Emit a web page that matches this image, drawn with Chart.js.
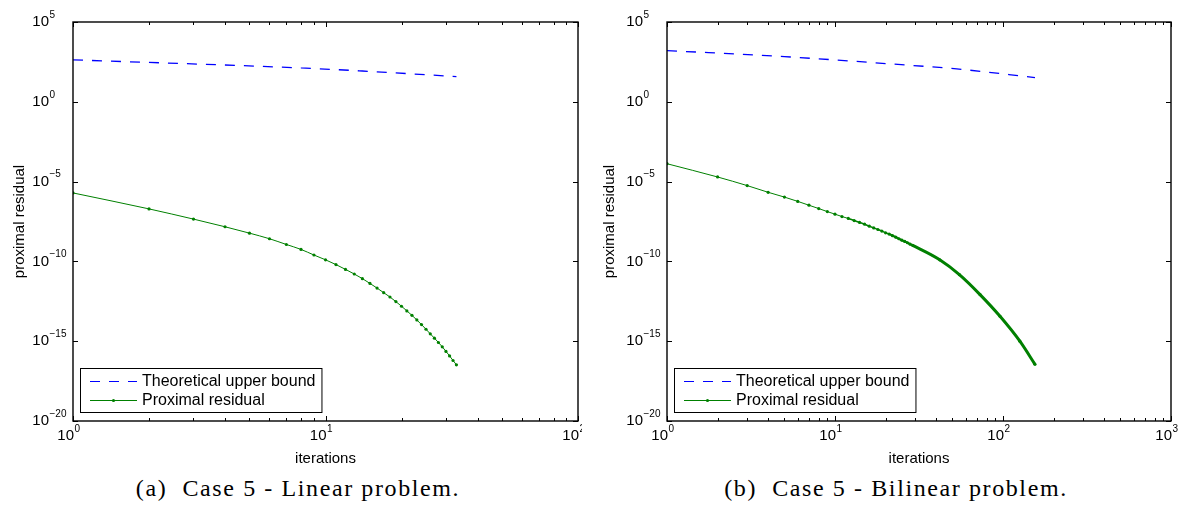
<!DOCTYPE html>
<html>
<head>
<meta charset="utf-8">
<script src="https://cdn.jsdelivr.net/npm/chart.js@4/dist/chart.umd.min.js"></script>
<style>
body { margin: 0; background: #fff; }
#wrap { position: relative; width: 1184px; height: 508px; overflow: hidden; }
#c1 { position: absolute; left: 0; top: 0; }
#c2 { position: absolute; left: 582px; top: 0; }
.cap { position: absolute; top: 475px; font-family: "Liberation Serif", serif; font-size: 24px; letter-spacing: 1.6px; white-space: nowrap; transform: translateX(-50%); }
</style>
</head>
<body>
<div id="wrap">
  <canvas id="c1" width="582" height="470"></canvas>
  <canvas id="c2" width="602" height="470"></canvas>
  <div class="cap" style="left:298px">(a)&nbsp; Case 5 - Linear problem.</div>
  <div class="cap" style="left:896px">(b)&nbsp; Case 5 - Bilinear problem.</div>
</div>
<script>
// values are log10 of the residuals
var linIter = [1,2,3,4,5,6,7,8,9,10,11,12,13,14,15,16,17,18,19,20,21,22,23,24,25,26,27,28,29,30,31,32,33];
var linResidualExp = [-5.71,-6.71,-7.35,-7.83,-8.23,-8.58,-8.94,-9.25,-9.6,-9.9,-10.2,-10.5,-10.79,-11.08,-11.38,-11.67,-11.96,-12.23,-12.52,-12.81,-13.1,-13.38,-13.67,-13.96,-14.25,-14.54,-14.81,-15.08,-15.35,-15.64,-15.92,-16.21,-16.48];
var linBoundIter = [1, 8, 14, 33];
var linBoundExp = [2.63, 2.12, 1.93, 1.58];

var bilIter = [1,2,3,4,5,6,7,8,9,10,11,12,13,14,15,16,17,18,19,20,21,22,23,24,25,26,27,28,29,42,55,73,96,126,155];
var bilResidualExp = [-3.88,-4.71,-5.25,-5.67,-5.97,-6.24,-6.48,-6.69,-6.88,-7.04,-7.19,-7.31,-7.44,-7.56,-7.67,-7.79,-7.9,-8.0,-8.1,-8.21,-8.29,-8.39,-8.48,-8.58,-8.67,-8.75,-8.83,-8.92,-9.0,-9.9,-10.83,-12.08,-13.44,-15.0,-16.45];
var bilBoundIter = [1, 5, 21, 53, 155];
var bilBoundExp = [3.21, 2.83, 2.38, 2.06, 1.52];

var yTickExp = [5, 0, -5, -10, -15, -20];
var xTickExp = [0, 1, 2, 3];
var seriesNames = ['Theoretical upper bound', 'Proximal residual'];

var sans = '"Liberation Sans", Arial, sans-serif';

function points(xs, es) {
    return xs.map(function (x, i) { return { x: x, y: Math.pow(10, es[i]) }; });
}

// "10" with a small raised exponent, the base ending at x
function drawPow(ctx, e, x, y) {
    ctx.textBaseline = 'middle';
    ctx.textAlign = 'right';
    ctx.font = '15px ' + sans;
    ctx.fillText('10', x, y);
    ctx.textAlign = 'left';
    ctx.font = '10px ' + sans;
    ctx.fillText(String(e).replace('-', '\u2212'), x + 0.5, y - 7);
}

// box round the plot with inward ticks on every side, tick labels and legend
var boxPlugin = {
    id: 'box',
    afterDraw: function (chart) {
        var ctx = chart.ctx, ca = chart.chartArea;
        var xs = chart.scales.x, ys = chart.scales.y;
        ctx.save();
        ctx.strokeStyle = '#000';
        ctx.lineWidth = 1;
        ctx.beginPath();
        for (var d = 0; Math.pow(10, d) <= xs.max; d++) {
            for (var m = 1; m <= 9; m++) {
                var v = m * Math.pow(10, d);
                if (v > xs.max) break;
                var px = Math.round(xs.getPixelForValue(v)) + 0.5;
                var len = m === 1 ? 5 : 3;
                ctx.moveTo(px, ca.top); ctx.lineTo(px, ca.top + len);
                ctx.moveTo(px, ca.bottom); ctx.lineTo(px, ca.bottom - len);
            }
        }
        yTickExp.forEach(function (e) {
            var py = Math.round(ys.getPixelForValue(Math.pow(10, e))) + 0.5;
            ctx.moveTo(ca.left, py); ctx.lineTo(ca.left + 5, py);
            ctx.moveTo(ca.right, py); ctx.lineTo(ca.right - 5, py);
        });
        ctx.stroke();
        ctx.lineWidth = 1.4;
        ctx.strokeRect(ca.left, ca.top, ca.right - ca.left, ca.bottom - ca.top);

        ctx.fillStyle = '#000';
        yTickExp.forEach(function (e) {
            drawPow(ctx, e, ca.left - 24, ys.getPixelForValue(Math.pow(10, e)));
        });
        xTickExp.forEach(function (e) {
            var v = Math.pow(10, e);
            if (v <= xs.max) drawPow(ctx, e, xs.getPixelForValue(v) + 1, ca.bottom + 15);
        });

        // legend, lower left corner
        ctx.font = '16px ' + sans;
        var sets = chart.data.datasets;
        var tw = Math.max.apply(null, sets.map(function (s) { return ctx.measureText(s.label).width; }));
        var bx = ca.left + 7, bh = 44, by = ca.bottom - 9 - bh, bw = 62 + tw + 6;
        ctx.fillStyle = '#fff';
        ctx.fillRect(bx, by, bw, bh);
        ctx.strokeStyle = '#000';
        ctx.lineWidth = 1;
        ctx.strokeRect(bx + 0.5, by + 0.5, bw, bh);
        sets.forEach(function (s, i) {
            var ly = by + 13.5 + i * 19;
            ctx.strokeStyle = s.borderColor;
            ctx.lineWidth = 1;
            ctx.setLineDash(s.borderDash || []);
            ctx.beginPath();
            ctx.moveTo(bx + 10, ly); ctx.lineTo(bx + 57, ly);
            ctx.stroke();
            ctx.setLineDash([]);
            if (s.pointRadius > 0) {
                ctx.fillStyle = s.borderColor;
                ctx.beginPath();
                ctx.arc(bx + 33.5, ly, s.pointRadius, 0, Math.PI * 2);
                ctx.fill();
            }
            ctx.fillStyle = '#000';
            ctx.textAlign = 'left';
            ctx.textBaseline = 'middle';
            ctx.fillText(s.label, bx + 62, ly);
        });
        ctx.restore();
    }
};

function makeChart(id, xMax, boundX, boundE, resX, resE, denseFrom, yWidth, yTitlePad, pad) {
    return new Chart(document.getElementById(id), {
        type: 'line',
        data: {
            datasets: [{
                label: seriesNames[0],
                data: points(boundX, boundE),
                borderColor: '#0000ff',
                borderWidth: 1.3,
                borderDash: [10, 9],
                pointRadius: 0,
                cubicInterpolationMode: 'monotone'
            }, {
                label: seriesNames[1],
                data: points(resX, resE),
                borderColor: '#008000',
                backgroundColor: '#008000',
                borderWidth: 1,
                pointRadius: 1.6,
                pointBorderWidth: 0,
                cubicInterpolationMode: 'monotone',
                segment: {
                    // markers sit so close on the bilinear run that the line looks thick
                    borderWidth: function (c) {
                        var x = c.p0.parsed.x;
                        if (x >= denseFrom) return 3;
                        if (x >= denseFrom * 0.7) return 2.2;
                        if (x >= denseFrom * 0.4) return 1.6;
                        return 1;
                    }
                }
            }]
        },
        options: {
            responsive: false,
            animation: false,
            layout: { padding: pad },
            plugins: { legend: { display: false }, tooltip: { enabled: false } },
            scales: {
                x: {
                    type: 'logarithmic',
                    min: 1,
                    max: xMax,
                    afterFit: function (s) { s.height = 49; s.paddingLeft = 0; s.paddingRight = 0; },
                    grid: { display: false, drawTicks: false },
                    border: { display: false },
                    ticks: { display: false },
                    title: {
                        display: true, text: 'iterations', color: '#000',
                        font: { family: sans, size: 15 }, padding: { top: 0, bottom: 2 }
                    }
                },
                y: {
                    type: 'logarithmic',
                    min: 1e-20,
                    max: 1e5,
                    afterFit: function (s) { s.width = yWidth; s.paddingTop = 0; s.paddingBottom = 0; },
                    grid: { display: false, drawTicks: false },
                    border: { display: false },
                    ticks: { display: false },
                    title: {
                        display: true, text: 'proximal residual', color: '#000',
                        font: { family: sans, size: 15 }, padding: { top: yTitlePad, bottom: 0 }
                    }
                }
            }
        },
        plugins: [boxPlugin]
    });
}

makeChart('c1', 100, linBoundIter, linBoundExp, linIter, linResidualExp, 1000, 73, 11, { left: 0, top: 22, right: 4, bottom: 0 });
makeChart('c2', 1000, bilBoundIter, bilBoundExp, bilIter, bilResidualExp, 29, 85, 19, { left: 0, top: 22, right: 13, bottom: 0 });
</script>
</body>
</html>
